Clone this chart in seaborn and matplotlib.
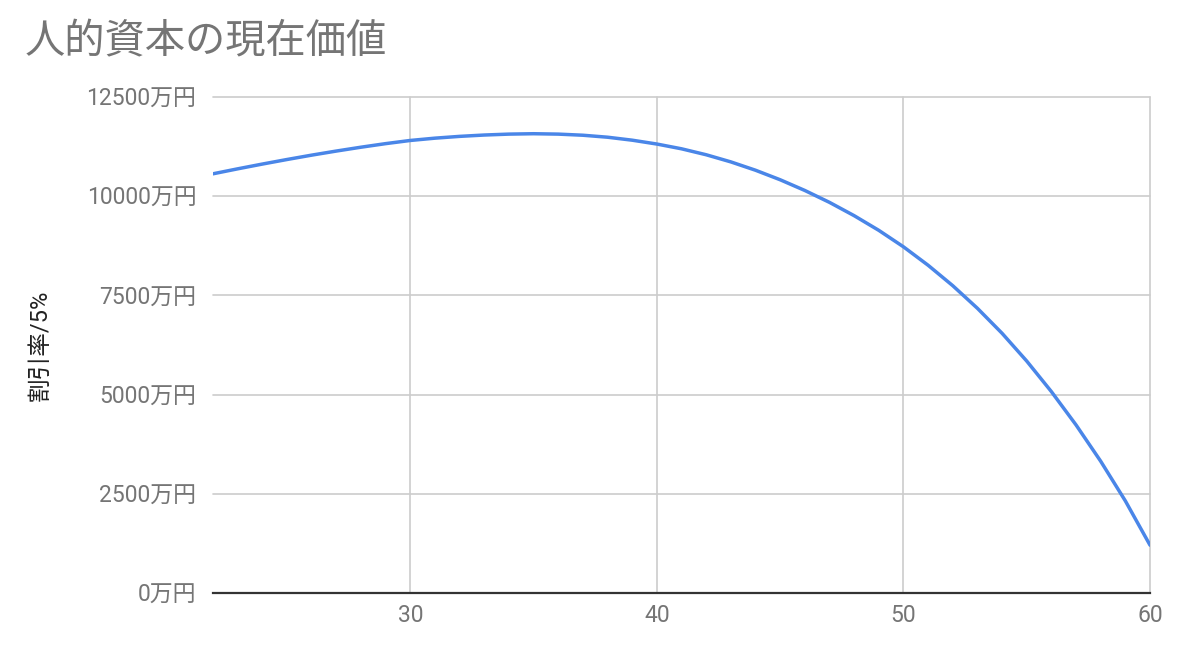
import numpy as np
import pandas as pd
import seaborn as sns
import matplotlib
matplotlib.use("Agg")
import matplotlib.pyplot as plt
from matplotlib.ticker import FuncFormatter

# 年齢ごとの人的資本の現在価値 (万円), 割引率5%
ages = list(range(22, 61))
values = [10565, 10690, 10810, 10925, 11035, 11138, 11235, 11325, 11405, 11463,
          11508, 11542, 11565, 11575, 11565, 11537, 11487, 11412, 11315, 11195,
          11045, 10865, 10655, 10415, 10145, 9845, 9510, 9140, 8725, 8260,
          7745, 7175, 6545, 5845, 5075, 4235, 3320, 2320, 1205]
x_ticks = [30, 40, 50, 60]
y_ticks = [0, 2500, 5000, 7500, 10000, 12500]
title = "人的資本の現在価値"
y_label = "割引率/5%"

df = pd.DataFrame({"age": ages, "value": values})

sns.set_style("whitegrid")
plt.rcParams["font.family"] = ["Roboto", "Noto Sans CJK JP", "DejaVu Sans"]

grey = "#757575"
fig = plt.figure(figsize=(11.8, 6.52), dpi=100)
ax = fig.add_axes([0.1805, 0.0905, 0.7941, 0.7607])

sns.lineplot(data=df, x="age", y="value", color="#4a86e8", linewidth=2.5, ax=ax)

ax.set_xlim(22, 60)
ax.set_ylim(0, 12500)
ax.set_xticks(x_ticks)
ax.set_yticks(y_ticks)
ax.yaxis.set_major_formatter(FuncFormatter(lambda v, p: f"{int(v)}万円"))

ax.grid(True, color="#cccccc", linewidth=1.2)
for gl in ax.get_xgridlines() + ax.get_ygridlines():
    gl.set_clip_on(False)
for side in ["left", "right", "top"]:
    ax.spines[side].set_visible(False)
ax.spines["bottom"].set_color("#333333")
ax.spines["bottom"].set_linewidth(1.6)
ax.tick_params(axis="y", length=0, pad=12, labelsize=16.5, labelcolor=grey)
ax.tick_params(axis="x", length=0, pad=8, labelsize=16.5, labelcolor=grey)

ax.set_xlabel("")
ax.set_ylabel(y_label, fontsize=17, color="#222222")
ax.yaxis.set_label_coords(-0.172, 0.5)

fig.text(0.021, 0.935, title, fontsize=29, color=grey, va="center", ha="left")

fig.savefig("out.png", dpi=100, facecolor="white")
